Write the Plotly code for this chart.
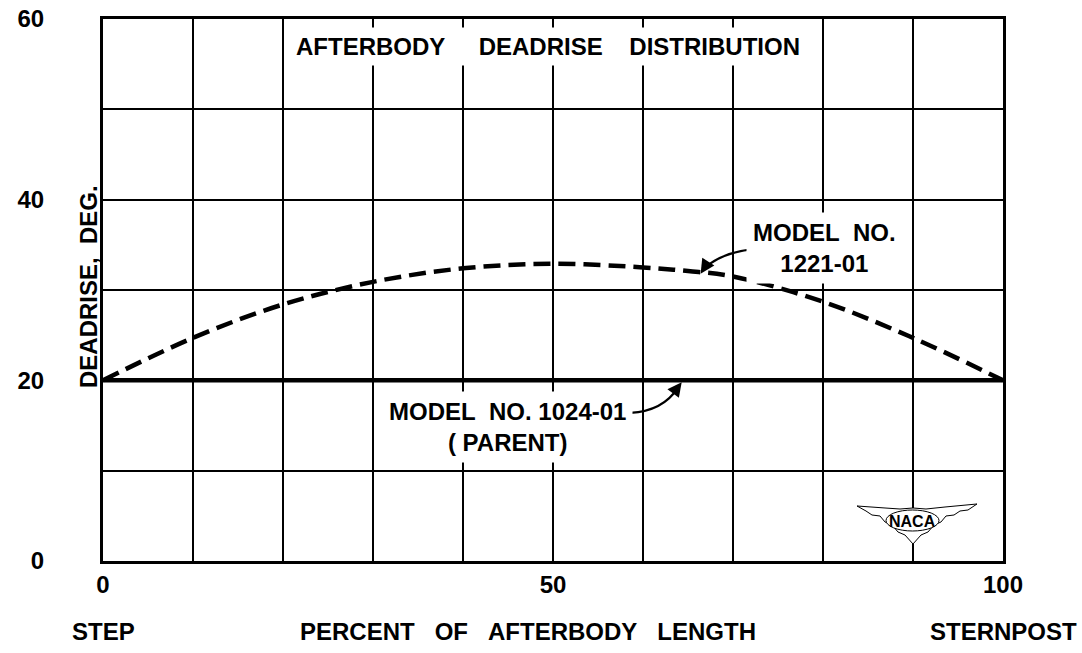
import plotly.graph_objects as go

# ---- data ----
x_parent = [0, 100]
y_parent = [20, 20]

x_1221 = [0, 10, 20, 30, 40, 50, 60, 65, 70, 80, 90, 100]
y_1221 = [20, 24.7, 28.4, 30.9, 32.4, 32.9, 32.5, 32.1, 31.5, 28.7, 24.7, 20]

x_tickvals = [0, 10, 20, 30, 40, 50, 60, 70, 80, 90, 100]
x_ticktext = ["0", "", "", "", "", "50", "", "", "", "", "100"]
y_tickvals = [0, 10, 20, 30, 40, 50, 60]
y_ticktext = ["0", "", "20", "", "40", "", "60"]

FAM = "Liberation Sans, Arial, sans-serif"
FONT = dict(family=FAM, size=24, color="black", weight="bold")
NB = "\u00a0"

W, H = 1082, 653
# target plot area on screen: x 103..1003, y 19..561 (page body margin removed)
ML, MT = 103, 19
MR, MB = W - 1003, H - 561
PW, PH = 900, 542


def px(xp):  # screen pixel x -> paper
    return (xp - 103) / PW


def py(yp):  # screen pixel y -> paper
    return (561 - yp) / PH


fig = go.Figure()
fig.add_trace(go.Scatter(x=x_parent, y=y_parent, mode="lines",
                         line=dict(color="black", width=4.5),
                         showlegend=False, hoverinfo="skip"))
fig.add_trace(go.Scatter(x=x_1221, y=y_1221, mode="lines",
                         line=dict(color="black", width=4.5, dash="17px,8px",
                                   shape="spline", smoothing=1.0),
                         showlegend=False, hoverinfo="skip"))

annotations = []
# title inside plot
annotations.append(dict(x=px(290), y=py(46), xref="paper", yref="paper",
                        xanchor="left", yanchor="middle",
                        text="AFTERBODY" + NB * 5 + "DEADRISE" + NB * 4 + "DISTRIBUTION",
                        showarrow=False, font=FONT, bgcolor="white", borderpad=5))
# model labels
annotations.append(dict(x=44.9, y=14.8, xref="x", yref="y",
                        xanchor="center", yanchor="middle",
                        text="MODEL" + NB * 2 + "NO." + NB + "1024-01<br>(" + NB + "PARENT)",
                        showarrow=False, font=FONT, bgcolor="white", borderpad=6))
annotations.append(dict(x=80.2, y=34.6, xref="x", yref="y",
                        xanchor="center", yanchor="middle",
                        text="MODEL" + NB * 2 + "NO.<br>1221-01",
                        showarrow=False, font=FONT, bgcolor="white", borderpad=6))
# arrowheads
annotations.append(dict(x=64.3, y=19.8, ax=63.4, ay=18.6, xref="x", yref="y",
                        axref="x", ayref="y", text="", showarrow=True,
                        arrowhead=2, arrowsize=1.3, arrowwidth=2.2, arrowcolor="black"))
annotations.append(dict(x=66.4, y=31.8, ax=67.3, ay=33.2, xref="x", yref="y",
                        axref="x", ayref="y", text="", showarrow=True,
                        arrowhead=2, arrowsize=1.3, arrowwidth=2.2, arrowcolor="black"))
# y axis title
annotations.append(dict(x=px(88), y=py(287), xref="paper", yref="paper",
                        xanchor="center", yanchor="middle",
                        text="DEADRISE," + NB * 2 + "DEG.", textangle=-90,
                        showarrow=False, font=FONT))
# bottom row
annotations.append(dict(x=0, y=py(631), xref="x", yref="paper", text="STEP",
                        xanchor="center", yanchor="middle",
                        showarrow=False, font=FONT))
annotations.append(dict(x=px(298), y=py(631), xref="paper", yref="paper",
                        text="PERCENT" + NB * 3 + "OF" + NB * 3 + "AFTERBODY" + NB * 3 + "LENGTH",
                        xanchor="left", yanchor="middle", showarrow=False, font=FONT))
annotations.append(dict(x=100, y=py(631), xref="x", yref="paper", text="STERNPOST",
                        xanchor="center", yanchor="middle",
                        showarrow=False, font=FONT))
# NACA logo text
annotations.append(dict(x=px(912), y=py(521), xref="paper", yref="paper", text="NACA",
                        xanchor="center", yanchor="middle",
                        showarrow=False, font=dict(family=FAM, size=16, color="black")))

shapes = []
# curved arrow shafts
shapes.append(dict(type="path", xref="x", yref="y",
                   path="M 58.6,16.4 Q 62.2,16.6 63.9,19.2",
                   line=dict(color="black", width=2.2)))
shapes.append(dict(type="path", xref="x", yref="y",
                   path="M 73.4,34.6 Q 69.0,34.4 66.8,32.4",
                   line=dict(color="black", width=2.2)))

# NACA wing emblem (decoration) in paper coordinates
wing_px = [(857, 506), (885, 508), (900, 509), (913, 508), (926, 509), (945, 507), (977, 504),
           (968, 510), (960, 511), (954, 515), (946, 516), (941, 522), (934, 525),
           (928, 532), (921, 535), (913, 544), (905, 535), (898, 532), (892, 525),
           (885, 522), (880, 516), (872, 515), (866, 511), (857, 506)]
path = "M " + " L ".join(f"{px(a):.5f},{py(b):.5f}" for a, b in wing_px) + " Z"
shapes.append(dict(type="path", xref="paper", yref="paper", path=path,
                   fillcolor="white", line=dict(color="black", width=1)))
shapes.append(dict(type="circle", xref="paper", yref="paper",
                   x0=px(886), x1=px(939), y0=py(531), y1=py(510),
                   fillcolor="white", line=dict(color="black", width=1)))

fig.update_layout(
    width=W, height=H,
    margin=dict(l=ML, r=MR, t=MT, b=MB, autoexpand=False),
    paper_bgcolor="white", plot_bgcolor="white",
    font=FONT,
    annotations=annotations, shapes=shapes,
    xaxis=dict(range=[0, 100], tickmode="array", tickvals=x_tickvals, ticktext=x_ticktext,
               showgrid=True, gridcolor="black", gridwidth=1.8, zeroline=False,
               showline=True, mirror=True, linecolor="black", linewidth=3,
               ticks="", ticklabelstandoff=0, tickfont=FONT, fixedrange=True,
               automargin=False, ticklabeloverflow="allow"),
    yaxis=dict(range=[0, 60], tickmode="array", tickvals=y_tickvals, ticktext=y_ticktext,
               showgrid=True, gridcolor="black", gridwidth=1.8, zeroline=False,
               showline=True, mirror=True, linecolor="black", linewidth=3,
               ticks="", ticklabelstandoff=51, tickfont=FONT, fixedrange=True,
               automargin=False, ticklabeloverflow="allow"),
)

fig.write_html("out.html",
               config={"displayModeBar": False},
               post_script="document.body.style.margin='0px';"
                           "document.body.style.overflow='hidden';")
